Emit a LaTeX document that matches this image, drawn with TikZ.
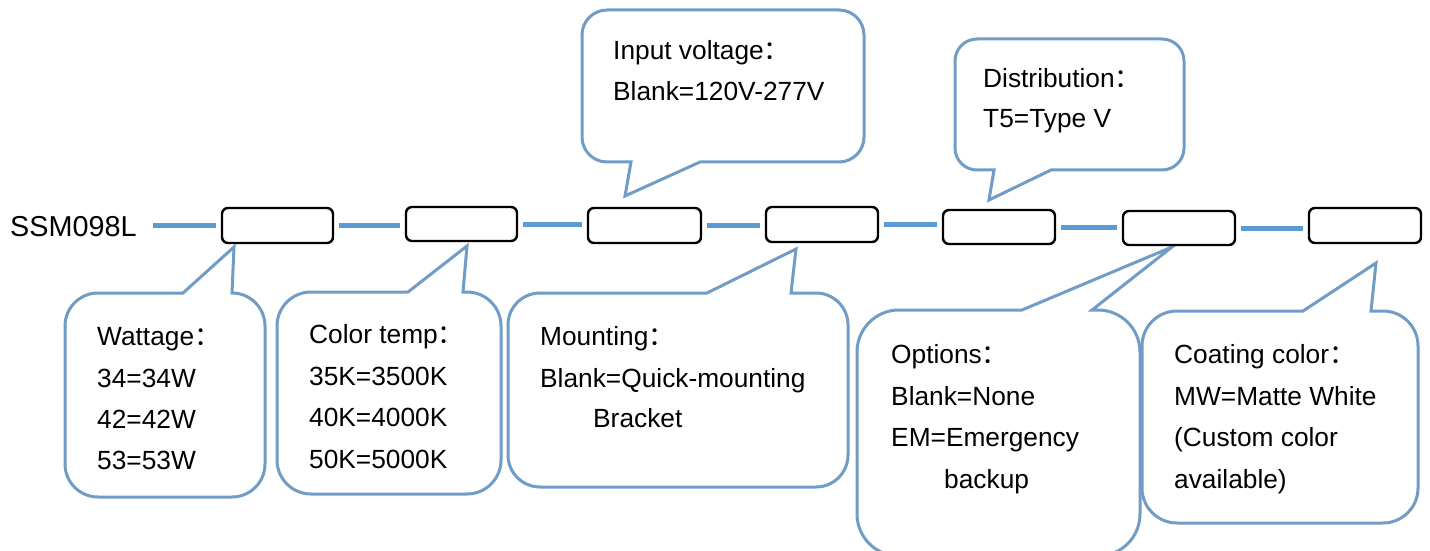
\documentclass[tikz,border=0pt]{standalone}
\usepackage{fontspec}
\setmainfont{Liberation Sans}
\newfontfamily\cjkfont{Noto Sans CJK SC}
\newcommand\fwc{{\cjkfont ：}}
\definecolor{calloutblue}{RGB}{112,156,198}
\definecolor{linkblue}{RGB}{91,155,213}
\tikzset{
  callout/.style={draw=calloutblue, line width=3pt, fill=white, line join=miter},
  codebox/.style={draw=black, line width=2.4pt, rounded corners=6pt, inner sep=0pt, fill=white},
  conn/.style={draw=linkblue, line width=5pt, shorten >=5pt, shorten <=5pt},
  txt/.style={anchor=base west, inner sep=0pt, font=\fontsize{26.3}{30}\selectfont},
}
% callout below the strip, pointer on its top edge
\newcommand\bubbleBelow[9]{%
  \draw[callout] (#1,{#4+#5}) -- (#1,{#3-#5}) arc[start angle=180,end angle=90,radius=#5pt]
    -- (#6,#3) -- (#8,#9) -- (#7,#3) -- ({#2-#5},#3) arc[start angle=90,end angle=0,radius=#5pt]
    -- (#2,{#4+#5}) arc[start angle=0,end angle=-90,radius=#5pt]
    -- ({#1+#5},#4) arc[start angle=270,end angle=180,radius=#5pt] -- cycle;}
% callout above the strip, pointer on its bottom edge
\newcommand\bubbleAbove[9]{%
  \draw[callout] (#1,{#4+#5}) -- (#1,{#3-#5}) arc[start angle=180,end angle=90,radius=#5pt]
    -- ({#2-#5},#3) arc[start angle=90,end angle=0,radius=#5pt]
    -- (#2,{#4+#5}) arc[start angle=0,end angle=-90,radius=#5pt]
    -- (#7,#4) -- (#8,#9) -- (#6,#4)
    -- ({#1+#5},#4) arc[start angle=270,end angle=180,radius=#5pt] -- cycle;}
\begin{document}
\begin{tikzpicture}[x=1pt,y=1pt]
\useasboundingbox (0,0) rectangle (1430,550);
\clip (0,0) rectangle (1430,550);
\fill[white] (0,0) rectangle (1430,550);

% callouts
\bubbleAbove{582}{864}{540}{388}{25}{631}{700}{625}{354}
\bubbleAbove{955}{1184}{511}{380}{22}{994}{1051}{989}{350}
\bubbleBelow{65}{265}{257}{53}{33}{183}{232}{234}{303}
\bubbleBelow{277}{501}{258}{56}{34}{408}{463}{467}{304}
\bubbleBelow{508}{848}{257}{63}{32}{707}{791}{796}{301}
\bubbleBelow{857}{1140}{240}{-6}{42}{1022}{1092}{1172}{303}
\bubbleBelow{1142}{1418}{239}{27}{35}{1303}{1371}{1376}{287}

% code boxes
\node[codebox, minimum width=111pt, minimum height=35pt] (b1) at (277.5,324.5) {};
\node[codebox, minimum width=111pt, minimum height=34pt] (b2) at (461.5,326) {};
\node[codebox, minimum width=113pt, minimum height=35pt] (b3) at (644.5,324.5) {};
\node[codebox, minimum width=112pt, minimum height=35pt] (b4) at (822,325.5) {};
\node[codebox, minimum width=112pt, minimum height=34pt] (b5) at (999,323) {};
\node[codebox, minimum width=112pt, minimum height=34pt] (b6) at (1179,322) {};
\node[codebox, minimum width=112pt, minimum height=35pt] (b7) at (1365,324.5) {};

\node[anchor=base west, inner sep=0pt, font=\fontsize{28.8}{34}\selectfont] (lbl) at (10,314) {SSM098L};

% connectors
\draw[conn, shorten <=16pt] (lbl.east |- b1.west) -- (b1.west);
\draw[conn] (b1.east) -- (b2.west |- b1.east);
\draw[conn] (b2.east) -- (b3.west |- b2.east);
\draw[conn] (b3.east) -- (b4.west |- b3.east);
\draw[conn] (b4.east) -- (b5.west |- b4.east);
\draw[conn] (b5.east) -- (b6.west |- b5.east);
\draw[conn] (b6.east) -- (b7.west |- b6.east);

% texts
\node[txt] (iv1) at (613,490) {Input voltage\fwc};
\node[txt] (iv2) at (613,449) {Blank=120V-277V};
\node[txt] (ds1) at (983,462) {Distribution\fwc};
\node[txt] (ds2) at (983,422) {T5=Type V};
\node[txt] (wt1) at (97,205) {Wattage\fwc};
\node[txt] (wt2) at (97,163) {34=34W};
\node[txt] (wt3) at (97,122) {42=42W};
\node[txt] (wt4) at (97,81) {53=53W};
\node[txt] (ct1) at (309,207) {Color temp\fwc};
\node[txt] (ct2) at (309,165) {35K=3500K};
\node[txt] (ct3) at (309,124) {40K=4000K};
\node[txt] (ct4) at (309,82) {50K=5000K};
\node[txt] (mt1) at (540,205) {Mounting\fwc};
\node[txt] (mt2) at (540,163) {Blank=Quick-mounting};
\node[txt] (mt3) at (593,123) {Bracket};
\node[txt] (op1) at (891,187) {Options\fwc};
\node[txt] (op2) at (891,145) {Blank=None};
\node[txt] (op3) at (891,104) {EM=Emergency};
\node[txt] (op4) at (944,62) {backup};
\node[txt] (cc1) at (1174,187) {Coating color\fwc};
\node[txt] (cc2) at (1174,145) {MW=Matte White};
\node[txt] (cc3) at (1174,104) {(Custom color};
\node[txt] (cc4) at (1174,62) {available)};
\end{tikzpicture}
\end{document}
